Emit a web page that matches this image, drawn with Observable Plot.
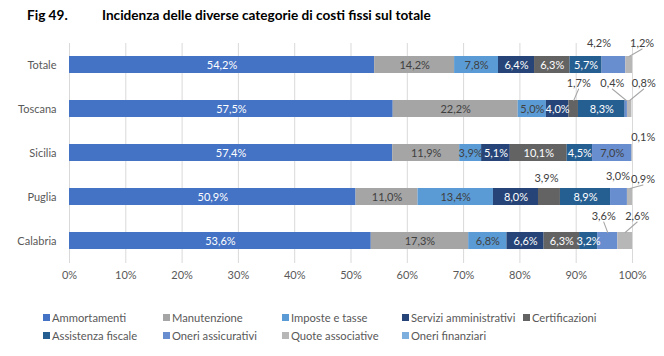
<!DOCTYPE html>
<html><head><meta charset="utf-8">
<script src="https://cdn.jsdelivr.net/npm/d3@7"></script>
<script src="https://cdn.jsdelivr.net/npm/@observablehq/plot@0.6"></script>
<style>
body{margin:0;background:#fff;font-family:Lato,"Open Sans",sans-serif;}
#wrap{position:relative;width:664px;height:356px;overflow:hidden;background:#fff}
#chart{position:absolute;left:0;top:0}
.t{position:absolute;top:6px;font-weight:bold;font-size:13.6px;color:#000;white-space:nowrap;line-height:18px}
#legend{position:absolute;left:43px;top:308px;display:grid;grid-template-columns:120px 119px 120px 121px 120px;row-gap:0px}
.li{display:flex;align-items:center;height:18px;font-size:11.2px;color:#595959;white-space:nowrap}
.sw{width:7px;height:7px;margin-right:2px;flex:none}
</style></head>
<body><div id="wrap">
<div class="t" style="left:27px">Fig 49.</div>
<div class="t" style="left:102px">Incidenza delle diverse categorie di costi fissi sul totale</div>
<div id="chart"></div>
<div id="legend"></div>
</div>
<script>
const regions = ["Totale","Toscana","Sicilia","Puglia","Calabria"];
const series = ["Ammortamenti","Manutenzione","Imposte e tasse","Servizi amministrativi","Certificazioni","Assistenza fiscale","Oneri assicurativi","Quote associative","Oneri finanziari"];
const colors = ["#4472C4","#A5A5A5","#5B9BD5","#264478","#636363","#255E91","#698ED0","#B7B7B7","#7CAFDD"];
const ammortamenti = [54.2,57.5,57.4,50.9,53.6];
const manutenzione = [14.2,22.2,11.9,11.0,17.3];
const imposte = [7.8,5.0,3.9,13.4,6.8];
const servizi = [6.4,4.0,5.1,8.0,6.6];
const certificazioni = [6.3,1.7,10.1,3.9,6.3];
const assistenza = [5.7,8.3,4.5,8.9,3.2];
const assicurativi = [4.2,0.4,7.0,3.0,3.6];
const quote = [1.2,0.8,0.1,0.9,2.6];
const finanziari = [0,0,0,0,0];
const xTicks = [0,10,20,30,40,50,60,70,80,90,100];

const seriesValues = [ammortamenti,manutenzione,imposte,servizi,certificazioni,assistenza,assicurativi,quote,finanziari];
const darkSeries = new Set(["Ammortamenti","Servizi amministrativi","Certificazioni","Assistenza fiscale"]);

// label placement for small segments (pixel offsets from segment centre)
const outside = [
 ["Totale","Oneri assicurativi",-15,-22,false],
 ["Totale","Quote associative",13,-22,true],
 ["Toscana","Certificazioni",5,-26,true],
 ["Toscana","Oneri assicurativi",-14,-26,true],
 ["Toscana","Quote associative",14,-26,true],
 ["Sicilia","Quote associative",11,-16,false],
 ["Puglia","Certificazioni",-3,-19,false],
 ["Puglia","Oneri assicurativi",-1,-21,false],
 ["Puglia","Quote associative",13,-18,true],
 ["Calabria","Oneri assicurativi",-4,-25,true],
 ["Calabria","Quote associative",12,-25,true]
];

const rows = [];
regions.forEach((r,i)=>{
  let acc = 0;
  series.forEach((s,j)=>{
    const v = seriesValues[j][i];
    rows.push({region:r, series:s, value:v, x1:acc, x2:acc+v, mid:acc+v/2});
    acc += v;
  });
});
const fmt = v => v.toFixed(1).replace(".",",") + "%";
const key = (r,s)=> r+"|"+s;
const outKeys = new Set(outside.map(o=>key(o[0],o[1])));
const inside = rows.filter(d=>d.value>0 && !outKeys.has(key(d.region,d.series)));

const lineShape = {draw(context, l){ context.moveTo(0,0); context.lineTo(0,-l); }};

const marks = [
  Plot.gridX(xTicks,{stroke:"#d9d9d9",strokeOpacity:1}),
  Plot.barX(rows.filter(d=>d.value>0),{x1:"x1",x2:"x2",y:"region",fill:"series"}),
  Plot.text(inside,{x:"mid",y:"region",text:d=>fmt(d.value),fill:d=>darkSeries.has(d.series)?"#ffffff":"#404040",fontSize:11})
];
outside.forEach(([r,s,dx,dy,leader])=>{
  const row = rows.filter(d=>d.region===r && d.series===s);
  marks.push(Plot.text(row,{x:"mid",y:"region",text:d=>fmt(d.value),dx,dy,fill:"#404040",fontSize:11}));
  if (leader) {
    const up = (-8.5) - (dy+6);
    const len = Math.hypot(dx, up);
    const rot = Math.atan2(dx, up)*180/Math.PI;
    marks.push(Plot.vector(row,{x:"mid",y:"region",dy:-8.5,length:len,rotate:rot,anchor:"start",shape:lineShape,stroke:"#a6a6a6",strokeWidth:1}));
  }
});

const chart = Plot.plot({
  width:664, height:300,
  marginLeft:69, marginRight:32, marginTop:43, marginBottom:37,
  style:{fontFamily:"Lato, 'Open Sans', sans-serif", fontSize:"11px", color:"#595959", background:"transparent"},
  x:{domain:[0,100], ticks:xTicks, tickFormat:d=>d+"%", tickSize:0, tickPadding:8, label:null},
  y:{domain:regions, paddingInner:0.61, paddingOuter:0.305, tickSize:0, tickPadding:13, label:null},
  color:{domain:series, range:colors},
  length:{type:"identity"},
  marks
});
document.getElementById("chart").appendChild(chart);

const legend = document.getElementById("legend");
series.forEach((s,j)=>{
  const li = document.createElement("div");
  li.className = "li";
  li.innerHTML = `<span class="sw" style="background:${colors[j]}"></span><span>${s}</span>`;
  legend.appendChild(li);
});
</script>
</body></html>
